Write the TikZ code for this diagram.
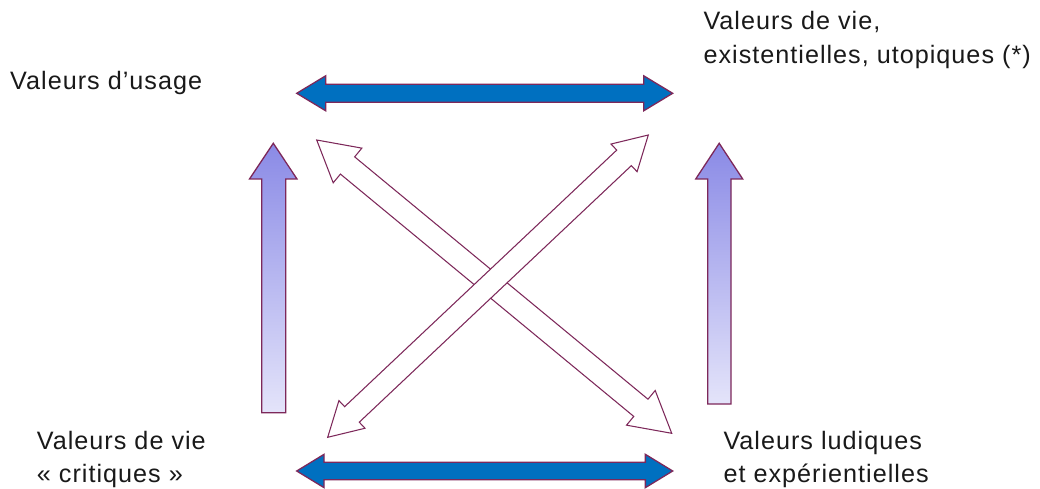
\documentclass[tikz,border=0pt]{standalone}
\usepackage{fontspec}
\setmainfont{Liberation Sans}[LetterSpace=4]
\usetikzlibrary{calc}
\definecolor{mag}{RGB}{125,40,90}
\definecolor{bluefill}{RGB}{0,112,192}
\definecolor{gradtop}{RGB}{138,138,230}
\definecolor{gradbot}{RGB}{228,228,250}
\newcommand\dblarr[6]{%
  \path ($(#1)!#3!(#2)$) coordinate (ha) ($(#2)!#3!(#1)$) coordinate (hb);
  \draw[#6] (#1) -- ($(ha)!#4!90:(#2)$) -- ($(ha)!#5!90:(#2)$) -- ($(hb)!#5!90:(#2)$) -- ($(hb)!#4!90:(#2)$) -- (#2)
    -- ($(hb)!#4!-90:(#2)$) -- ($(hb)!#5!-90:(#2)$) -- ($(ha)!#5!-90:(#2)$) -- ($(ha)!#4!-90:(#2)$) -- cycle;}
\begin{document}
\begin{tikzpicture}[x=0.03cm,y=-0.03cm,
  lbl/.style={anchor=base west,inner sep=0pt,font=\fontsize{21.5}{28.2}\selectfont,text=black!90},
  bluearr/.style={fill=bluefill,draw=mag,line width=1.1pt,line join=miter},
  outarr/.style={fill=white,draw=mag,line width=0.9pt,line join=miter},
  gradarr/.style={top color=gradtop,bottom color=gradbot,draw=mag,line width=1.1pt,line join=miter}]
\useasboundingbox (0,0) rectangle (1040,489);

% labels
\node[lbl] (usage) at (10,89.3) {Valeurs d’usage};
\node[lbl] (vie) at (703.3,30) {\begin{tabular}[t]{@{}l@{}}Valeurs de vie,\\existentielles, utopiques (*)\end{tabular}};
\node[lbl] (crit) at (36.7,449.3) {\begin{tabular}[t]{@{}l@{}}Valeurs de vie\\« critiques »\end{tabular}};
\node[lbl] (ludi) at (723.3,449.3) {\begin{tabular}[t]{@{}l@{}}Valeurs ludiques\\et expérientielles\end{tabular}};

% end points
\coordinate (tl) at (296.7,93.3);
\coordinate (tr) at (672.7,93.3);
\coordinate (bl) at (296.7,471);
\coordinate (br) at (672.7,471);
\coordinate (da1) at (316.7,140);
\coordinate (da2) at (671.7,433.3);
\coordinate (db1) at (327.7,437.3);
\coordinate (db2) at (648.3,135);

% horizontal blue arrows
\dblarr{tl}{tr}{0.87cm}{0.525cm}{0.27cm}{bluearr}
\dblarr{bl}{br}{0.82cm}{0.5cm}{0.26cm}{bluearr}

% diagonal outline arrows
\dblarr{da1}{da2}{1.2cm}{0.675cm}{0.335cm}{outarr}
\dblarr{db1}{db2}{1.0cm}{0.57cm}{0.32cm}{outarr}

% vertical gradient arrows
\shade[gradarr] (261.7,412.7) -- (261.7,179) -- (249.5,179) -- (273.3,143.3) -- (297,179) -- (285.7,179) -- (285.7,412.7) -- cycle;
\shade[gradarr] (707.7,404) -- (707.7,179) -- (695.7,179) -- (719.2,143.3) -- (742.7,179) -- (731,179) -- (731,404) -- cycle;
\end{tikzpicture}
\end{document}
